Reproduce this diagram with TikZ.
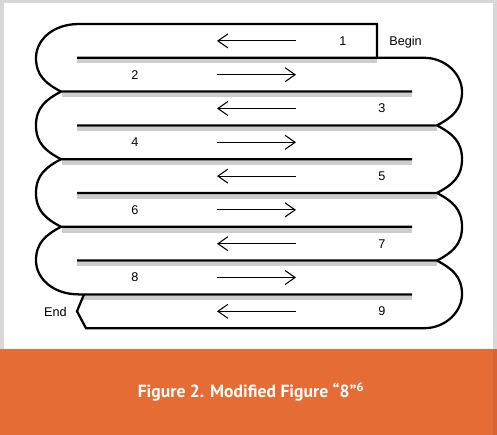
\documentclass[tikz,border=0pt]{standalone}
\usepackage{fontspec}
\setmainfont{Liberation Sans}
\newfontfamily\capfont{PT Sans}
\usetikzlibrary{arrows.meta}
\definecolor{bandorange}{HTML}{E56C34}
\definecolor{shadowgray}{HTML}{CDCDCD}
\definecolor{framegray}{HTML}{D8D8D8}
\begin{document}
\begin{tikzpicture}[x=0.75pt,y=-0.75pt,
  lane/.style={line width=1.7pt,line join=miter},
  shade/.style={fill=shadowgray},
  dirarrow/.style={line width=0.8pt,-{Straight Barb[length=7.5pt,width=10.5pt,line width=0.8pt]}},
  lbl/.style={font=\fontsize{9.5}{11}\selectfont,inner sep=0pt}]
\useasboundingbox (0,0) rectangle (497,435);
% frame strips
\fill[framegray] (0,0) rectangle (497,3);
\fill[framegray] (0,0) rectangle (4,349);
\fill[framegray] (493,0) rectangle (497,349);
% orange caption band
\fill[bandorange] (0,349) rectangle (497,435);
\fill[bandorange!85!black,opacity=0.35] (493,349) rectangle (497,435);
\node[text=white,font=\capfont\bfseries\fontsize{13.2}{15}\selectfont] (cap) at (251,392) {Figure 2. Modified Figure “8”\textsuperscript{6}};
% shadows
\fill[shade] (77,59) rectangle (377,63.5);
\fill[shade] (62,92.8) rectangle (412,97.3);
\fill[shade] (77,126.6) rectangle (437,131.1);
\fill[shade] (62,160.4) rectangle (412,164.9);
\fill[shade] (77,194.2) rectangle (437,198.7);
\fill[shade] (62,228) rectangle (412,232.5);
\fill[shade] (77,261.8) rectangle (437,266.3);
\fill[shade] (82,295.6) rectangle (412,300.1);
% lane boundaries
\draw[lane] (377,57.8) -- (377,24) -- (79,24)
  .. controls (52,24) and (36,40.8) .. (36,57.8)
  .. controls (36,75.8) and (46,83.6) .. (61,91.6);
\draw[lane] (77,57.8) -- (424,57.8)
  .. controls (446,57.8) and (462,74.6) .. (462,91.6)
  .. controls (462,109.6) and (452,117.4) .. (437,125.4);
\draw[lane] (412,91.6) -- (61,91.6)
  .. controls (46,99.6) and (36,107.4) .. (36,125.4)
  .. controls (36,143.4) and (46,151.2) .. (61,159.2);
\draw[lane] (77,125.4) -- (437,125.4)
  .. controls (452,133.4) and (462,141.2) .. (462,159.2)
  .. controls (462,177.2) and (452,185) .. (437,193);
\draw[lane] (412,159.2) -- (61,159.2)
  .. controls (46,167.2) and (36,175) .. (36,193)
  .. controls (36,211) and (46,218.8) .. (61,226.8);
\draw[lane] (77,193) -- (437,193)
  .. controls (452,201) and (462,208.8) .. (462,226.8)
  .. controls (462,244.8) and (452,252.6) .. (437,260.6);
\draw[lane] (412,226.8) -- (61,226.8)
  .. controls (46,234.8) and (36,242.6) .. (36,260.6)
  .. controls (36,277.6) and (52,294.4) .. (79,294.4) -- (412,294.4);
\draw[lane] (77,260.6) -- (437,260.6)
  .. controls (452,268.6) and (462,276.4) .. (462,294.4)
  .. controls (462,311.4) and (446,328.2) .. (424,328.2)
  -- (86,328.2) -- (77,311.3) -- (84,294.4);
% direction arrows
\foreach \y/\n in {40.9/1,108.5/3,176.1/5,243.7/7,311.3/9}{
  \coordinate (al\n) at (296,\y);
  \coordinate (ar\n) at (217,\y);
  \draw[dirarrow] (al\n) -- (ar\n);
}
\foreach \y/\n in {74.7/2,142.3/4,209.9/6,277.5/8}{
  \coordinate (al\n) at (217,\y);
  \coordinate (ar\n) at (296,\y);
  \draw[dirarrow] (al\n) -- (ar\n);
}
% labels
\node[lbl] (n1) at (343,41) {1};
\node[lbl] (n2) at (135,74.7) {2};
\node[lbl] (n3) at (382,108.5) {3};
\node[lbl] (n4) at (135,142.3) {4};
\node[lbl] (n5) at (382,176.1) {5};
\node[lbl] (n6) at (135,209.9) {6};
\node[lbl] (n7) at (382,243.7) {7};
\node[lbl] (n8) at (135,277.5) {8};
\node[lbl] (n9) at (382,311.3) {9};
\node[lbl] (begin) at (405.5,42) {Begin};
\node[lbl] (end) at (55.5,311.5) {End};
\end{tikzpicture}
\end{document}
